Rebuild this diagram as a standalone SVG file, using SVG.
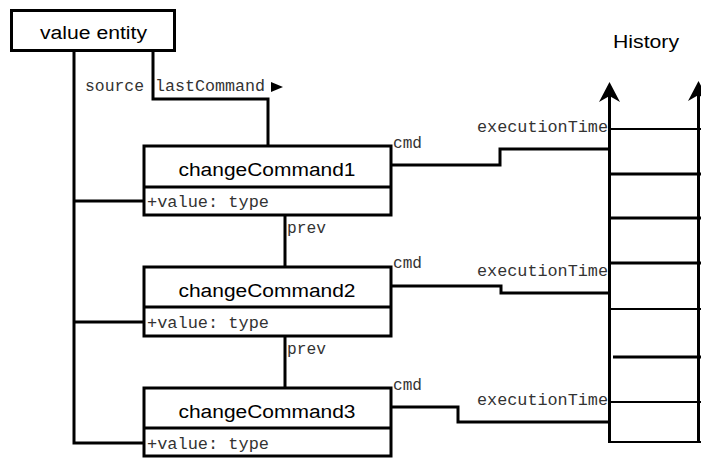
<svg xmlns="http://www.w3.org/2000/svg" width="701" height="460" viewBox="0 0 701 460">
  <style>
    .box { fill: #fff; stroke: #000; stroke-width: 3; }
    .wire { fill: none; stroke: #000; stroke-width: 3; }
    .thin { fill: none; stroke: #000; stroke-width: 2; }
    .title { font-family: "Liberation Sans", Arial, sans-serif; font-size: 18px; fill: #000; }
    .mono { font-family: "Courier New", "Nimbus Mono PS", FreeMono, "Liberation Mono", monospace; font-size: 16px; fill: #333; }
  </style>
  <rect width="701" height="460" fill="#fff"/>

  <!-- connectors -->
  <g id="connectors">
    <!-- source: entity to each command -->
    <path class="wire" d="M74 51 V443 H144 M74 201 H144 M74 322 H144"/>
    <!-- lastCommand -->
    <path class="wire" d="M153 51 V99 H268 V146"/>
    <polygon points="271,82 283,87 271,92" fill="#000"/>
    <!-- prev links -->
    <path class="wire" d="M285 215 V267 M285 336 V388"/>
    <!-- cmd / executionTime links -->
    <path class="wire" d="M391 165 H500 V149 H609"/>
    <path class="wire" d="M391 286 H501 V293 H609"/>
    <path class="wire" d="M391 407 H458 V422 H609"/>
  </g>

  <!-- history timeline -->
  <g id="history">
    <path class="wire" d="M609.5 95 V443"/>
    <polygon points="609.5,82 599,102 609.5,96 620,102" fill="#000"/>
    <path class="wire" d="M698.5 95 V443"/>
    <polygon points="698.5,81 688,101 698.5,95 709,101" fill="#000"/>
    <path class="thin" d="M609 129 H701"/>
    <path class="wire" d="M609 174 H701 M609 218 H701 M609 263 H701"/>
    <path class="thin" d="M609 309 H701"/>
    <path class="wire" d="M613 357 H701"/>
    <path class="thin" d="M609 402 H701 M609 442 H701"/>
    <text class="title" x="613" y="48" textLength="66" lengthAdjust="spacingAndGlyphs">History</text>
  </g>

  <!-- value entity -->
  <g id="value-entity">
    <rect class="box" x="11.5" y="10.5" width="163" height="40"/>
    <text class="title" x="93.5" y="39" text-anchor="middle" textLength="107" lengthAdjust="spacingAndGlyphs">value entity</text>
  </g>

  <!-- commands -->
  <g id="changeCommand1">
    <rect class="box" x="144" y="146" width="247" height="69"/>
    <path class="wire" d="M144 187 H391"/>
    <text class="title" x="267" y="176" text-anchor="middle" textLength="177" lengthAdjust="spacingAndGlyphs">changeCommand1</text>
    <text class="mono" x="147" y="207" textLength="122" lengthAdjust="spacingAndGlyphs">+value: type</text>
  </g>
  <g id="changeCommand2">
    <rect class="box" x="144" y="267" width="247" height="69"/>
    <path class="wire" d="M144 307 H391"/>
    <text class="title" x="267" y="297" text-anchor="middle" textLength="177" lengthAdjust="spacingAndGlyphs">changeCommand2</text>
    <text class="mono" x="147" y="328" textLength="122" lengthAdjust="spacingAndGlyphs">+value: type</text>
  </g>
  <g id="changeCommand3">
    <rect class="box" x="144" y="388" width="247" height="68"/>
    <path class="wire" d="M144 428 H391"/>
    <text class="title" x="267" y="418" text-anchor="middle" textLength="177" lengthAdjust="spacingAndGlyphs">changeCommand3</text>
    <text class="mono" x="147" y="449" textLength="122" lengthAdjust="spacingAndGlyphs">+value: type</text>
  </g>

  <!-- connector labels -->
  <g id="labels">
    <text class="mono" x="85" y="91" textLength="59" lengthAdjust="spacingAndGlyphs">source</text>
    <text class="mono" x="155" y="91" textLength="110" lengthAdjust="spacingAndGlyphs">lastCommand</text>
    <text class="mono" x="287" y="233" textLength="39" lengthAdjust="spacingAndGlyphs">prev</text>
    <text class="mono" x="287" y="354" textLength="39" lengthAdjust="spacingAndGlyphs">prev</text>
    <text class="mono" x="393" y="148" textLength="29" lengthAdjust="spacingAndGlyphs">cmd</text>
    <text class="mono" x="393" y="268" textLength="29" lengthAdjust="spacingAndGlyphs">cmd</text>
    <text class="mono" x="393" y="390" textLength="29" lengthAdjust="spacingAndGlyphs">cmd</text>
    <text class="mono" x="608" y="132" text-anchor="end" textLength="131" lengthAdjust="spacingAndGlyphs">executionTime</text>
    <text class="mono" x="608" y="276" text-anchor="end" textLength="131" lengthAdjust="spacingAndGlyphs">executionTime</text>
    <text class="mono" x="608" y="405" text-anchor="end" textLength="131" lengthAdjust="spacingAndGlyphs">executionTime</text>
  </g>
</svg>
